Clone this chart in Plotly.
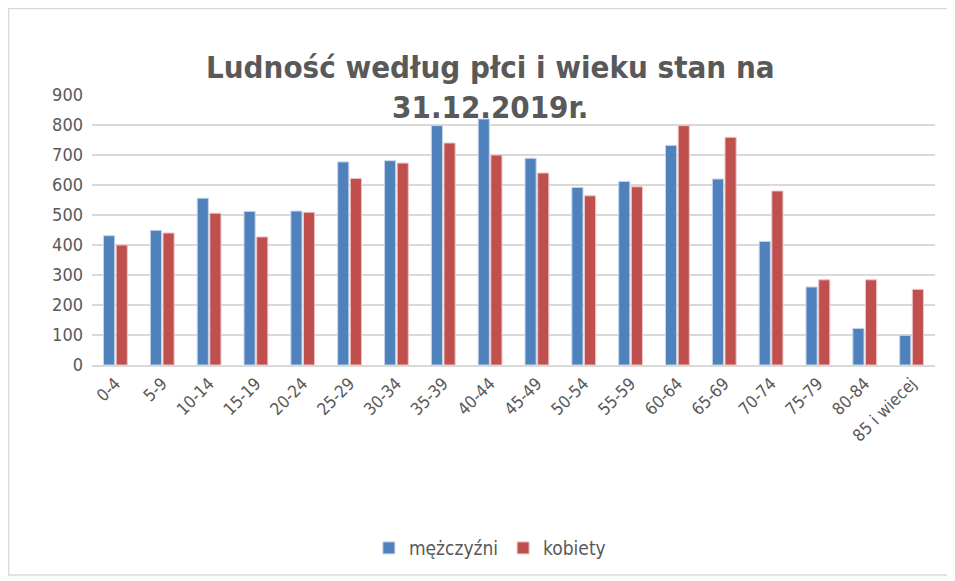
import plotly.graph_objects as go

# age groups
kategorie = ['0-4', '5-9', '10-14', '15-19', '20-24', '25-29', '30-34', '35-39', '40-44',
             '45-49', '50-54', '55-59', '60-64', '65-69', '70-74', '75-79', '80-84', '85 i wiecej']
mezczyzni = [431, 449, 556, 512, 513, 677, 681, 798, 820, 689, 592, 612, 732, 620, 412, 260, 122, 99]
kobiety = [400, 440, 506, 427, 509, 622, 673, 740, 700, 640, 564, 594, 798, 759, 580, 284, 284, 252]

FONT = "Liberation Sans Narrow, DejaVu Sans Condensed, Arial Narrow, sans-serif"
GREY = '#595959'

fig = go.Figure()
fig.add_trace(go.Bar(x=kategorie, y=mezczyzni, name='mężczyźni',
                     marker=dict(color='#4f81bd', line=dict(color='#c5d5ea', width=1))))
fig.add_trace(go.Bar(x=kategorie, y=kobiety, name='kobiety',
                     marker=dict(color='#c0504d', line=dict(color='#ecc5c4', width=1))))

fig.update_layout(
    width=955, height=581,
    margin=dict(l=84, r=28, t=87, b=224),
    paper_bgcolor='white', plot_bgcolor='white',
    font=dict(family=FONT, color=GREY, size=18),
    barmode='group', bargap=0.46, bargroupgap=0.12,
    title=dict(text='<b>Ludność według płci i wieku stan na<br>31.12.2019r.</b>',
               x=0.505, xanchor='center', y=0.88, yanchor='top',
               font=dict(family=FONT, size=31, color=GREY)),
    legend=dict(orientation='h', x=0.472, xanchor='center', y=-0.678, yanchor='middle',
                font=dict(size=19, color=GREY), itemwidth=30),
    showlegend=True,
)

fig.update_yaxes(range=[0, 900], dtick=100, showgrid=True, gridcolor='#d9d9d9', gridwidth=2,
                 zeroline=False, showline=False, ticks='', ticklabelstandoff=8,
                 tickfont=dict(size=18, color=GREY))
fig.update_xaxes(showline=True, linecolor='#d9d9d9', linewidth=2, tickangle=-45, ticks='',
                 tickfont=dict(size=17, color=GREY))

# chart border
fig.add_shape(type='rect', xref='paper', yref='paper', x0=-0.099, x1=1.0178, y0=-0.778, y1=1.32,
              line=dict(color='#d9d9d9', width=1.5), fillcolor='rgba(0,0,0,0)', layer='below')

fig.write_html("out.html")
